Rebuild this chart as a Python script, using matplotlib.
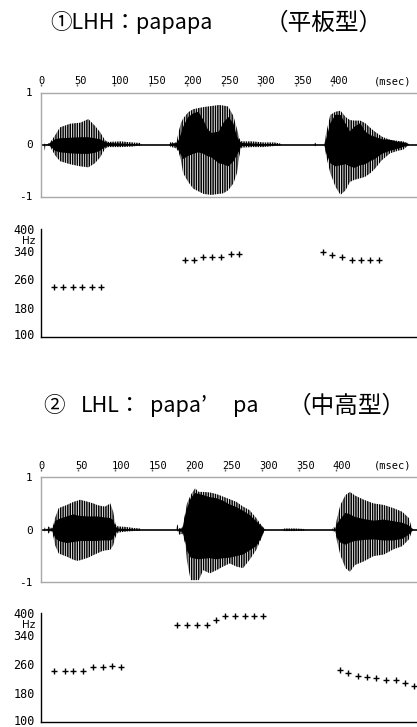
import matplotlib
matplotlib.use('Agg')
import matplotlib.pyplot as plt
import matplotlib.transforms as mtransforms

plt.rcParams['font.family'] = ['Noto Sans CJK JP', 'DejaVu Sans']
plt.rcParams['hatch.linewidth'] = 1.1
plt.rcParams['hatch.color'] = 'black'

# ---- time axis (msec) ----
x_ticks = [0, 50, 100, 150, 200, 250, 300, 350, 400]

# ---- (1) LHH papapa : waveform envelope ----
w1_t  = [0, 4, 5, 7, 12, 19, 26, 40, 54, 65, 74, 81, 88, 92, 110, 125, 136, 138,
         176, 178, 183, 186, 189, 192, 195, 202, 209, 216, 223, 228, 234, 244, 250,
         257, 264, 269, 272, 275, 290, 305, 320, 328, 330, 374, 376, 378, 389, 391,
         397, 404, 411, 418, 424, 430, 438, 445, 452, 458, 468, 479, 490, 497, 503,
         505, 520]
w1_up = [0, 0, 0.02, 0, 0.03, 0.17, 0.33, 0.40, 0.42, 0.49, 0.36, 0.24, 0.08, 0.05,
         0.06, 0.04, 0.03, 0, 0, 0.05, 0.03, 0.05, 0.25, 0.41, 0.50, 0.62, 0.68,
         0.70, 0.72, 0.73, 0.74, 0.76, 0.75, 0.73, 0.55, 0.30, 0.12, 0.06, 0.06,
         0.04, 0.04, 0.02, 0, 0, 0.04, 0, 0, 0.20, 0.57, 0.63, 0.65, 0.53, 0.47,
         0.46, 0.46, 0.41, 0.32, 0.25, 0.15, 0.09, 0.07, 0.06, 0.03, 0, 0]
w1_lo = [0, 0, -0.12, 0, -0.03, -0.20, -0.32, -0.38, -0.42, -0.44, -0.36, -0.25,
         -0.08, -0.05, -0.05, -0.04, -0.02, 0, 0, -0.05, -0.06, -0.08, -0.15, -0.30,
         -0.55, -0.72, -0.85, -0.90, -0.95, -0.96, -0.97, -0.95, -0.94, -0.88, -0.75,
         -0.55, -0.23, -0.06, -0.05, -0.05, -0.03, -0.02, 0, 0, -0.04, 0, 0, -0.20,
         -0.55, -0.81, -0.97, -0.88, -0.72, -0.68, -0.65, -0.62, -0.55, -0.47, -0.30,
         -0.17, -0.12, -0.10, -0.03, 0, 0]
w1_cu = [0, 0, 0, 0, 0.02, 0.10, 0.12, 0.13, 0.14, 0.14, 0.12, 0.10, 0.05, 0.03,
         0.02, 0.01, 0, 0, 0, 0.02, 0.02, 0.03, 0.09, 0.20, 0.34, 0.53, 0.60, 0.63,
         0.47, 0.31, 0.22, 0.25, 0.41, 0.53, 0.41, 0.15, 0.08, 0.03, 0.02, 0.01,
         0.01, 0, 0, 0, 0, 0, 0, 0.09, 0.41, 0.57, 0.57, 0.40, 0.25, 0.34, 0.41,
         0.25, 0.18, 0.15, 0.10, 0.09, 0.05, 0.04, 0.02, 0, 0]
w1_cl = [0, 0, 0, 0, -0.02, -0.12, -0.15, -0.17, -0.18, -0.18, -0.16, -0.12, -0.05,
         -0.03, -0.02, -0.01, 0, 0, 0, -0.02, -0.02, -0.05, -0.12, -0.20, -0.28,
         -0.22, -0.18, -0.15, -0.18, -0.22, -0.25, -0.36, -0.38, -0.42, -0.33, -0.20,
         -0.12, -0.03, -0.02, -0.02, -0.01, 0, 0, 0, 0, 0, 0, -0.15, -0.36, -0.42,
         -0.40, -0.38, -0.42, -0.45, -0.40, -0.38, -0.32, -0.28, -0.18, -0.12, -0.08,
         -0.05, -0.02, 0, 0]

# ---- (1) pitch points ----
f1_t = [18, 30, 44, 56, 70, 82,
        198, 210, 222, 235, 247, 261, 272,
        387, 400, 413, 427, 439, 452, 464]
f1_hz = [240, 240, 240, 240, 240, 240,
         314, 314, 322, 322, 322, 330, 330,
         335, 329, 323, 314, 314, 314, 314]

# ---- (2) LHL papa'pa : waveform envelope ----
w2_t  = [0, 4, 5, 8, 10, 14, 17, 19, 24, 35, 44, 49, 53, 64, 71, 76, 82, 87, 94,
         98, 101, 104, 115, 125, 134, 136, 183, 185, 187, 192, 196, 198, 203, 209,
         214, 220, 229, 238, 247, 256, 265, 274, 283, 292, 298, 303, 305, 327, 330,
         345, 357, 359, 395, 397, 399, 401, 406, 413, 419, 426, 438, 451, 465, 478,
         490, 499, 503, 505, 520]
w2_up = [0, 0, 0.04, 0, 0.06, 0.02, 0.10, 0.22, 0.41, 0.47, 0.53, 0.55, 0.57, 0.53,
         0.50, 0.47, 0.45, 0.44, 0.50, 0.34, 0.10, 0.06, 0.05, 0.03, 0.02, 0, 0,
         0.10, 0.02, 0.04, 0.35, 0.50, 0.66, 0.79, 0.72, 0.72, 0.71, 0.68, 0.63,
         0.58, 0.53, 0.44, 0.37, 0.22, 0.10, 0.02, 0, 0, 0.02, 0.02, 0.01, 0, 0,
         0.06, 0.02, 0.18, 0.47, 0.66, 0.72, 0.65, 0.57, 0.50, 0.47, 0.41, 0.34,
         0.22, 0.03, 0, 0]
w2_lo = [0, 0, -0.04, 0, -0.08, -0.02, -0.15, -0.30, -0.46, -0.52, -0.58, -0.60,
         -0.59, -0.54, -0.49, -0.46, -0.42, -0.40, -0.39, -0.30, -0.15, -0.06, -0.04,
         -0.03, -0.02, 0, 0, -0.02, -0.10, -0.08, -0.30, -0.60, -0.97, -0.97, -0.97,
         -0.78, -0.84, -0.78, -0.71, -0.65, -0.71, -0.74, -0.58, -0.39, -0.20, -0.03,
         0, 0, -0.03, -0.03, -0.02, 0, 0, -0.06, -0.02, -0.19, -0.49, -0.74, -0.81,
         -0.68, -0.61, -0.51, -0.48, -0.38, -0.32, -0.19, -0.05, 0, 0]
w2_cu = [0, 0, 0, 0, 0.02, 0, 0.05, 0.16, 0.20, 0.25, 0.29, 0.27, 0.26, 0.25, 0.25,
         0.25, 0.24, 0.23, 0.22, 0.18, 0.06, 0.02, 0.01, 0, 0, 0, 0, 0, 0, 0.02,
         0.30, 0.40, 0.60, 0.70, 0.68, 0.66, 0.62, 0.60, 0.55, 0.48, 0.43, 0.36,
         0.28, 0.16, 0.08, 0, 0, 0, 0, 0, 0, 0, 0, 0, 0, 0.10, 0.20, 0.32, 0.29,
         0.24, 0.20, 0.17, 0.19, 0.16, 0.13, 0.08, 0.02, 0, 0]
w2_cl = [0, 0, 0, 0, -0.03, 0, -0.08, -0.16, -0.22, -0.26, -0.24, -0.23, -0.22,
         -0.22, -0.22, -0.22, -0.21, -0.21, -0.21, -0.18, -0.08, -0.03, -0.02, 0, 0,
         0, 0, 0, -0.04, -0.04, -0.25, -0.40, -0.54, -0.56, -0.57, -0.56, -0.55,
         -0.57, -0.55, -0.54, -0.51, -0.48, -0.40, -0.32, -0.18, 0, 0, 0, 0, 0, 0,
         0, 0, 0, 0, -0.15, -0.25, -0.29, -0.25, -0.22, -0.20, -0.19, -0.21, -0.21,
         -0.18, -0.10, -0.03, 0, 0]

# ---- (2) pitch points ----
f2_t = [18, 32, 44, 57, 71, 84, 96, 109,
        185, 198, 212, 225, 237, 250, 263, 277, 289, 301,
        405, 417, 430, 442, 455, 468, 481, 494, 506]
f2_hz = [240, 240, 240, 242, 252, 252, 254, 252,
         366, 366, 366, 366, 382, 391, 391, 391, 391, 391,
         244, 235, 227, 225, 221, 215, 215, 209, 200]

hz_ticks = [100, 180, 260, 340, 400]

MONO = 'DejaVu Sans Mono'
GRAY = '#a8a8a8'


def drawWave(ax, t, up, lo, cu, cl, xmax):
    """waveform panel: hatched spikes + solid core"""
    ax.fill_between(t, lo, up, facecolor='white', edgecolor='black',
                    hatch='|||||||', linewidth=0)
    ax.fill_between(t, cl, cu, facecolor='black', linewidth=0)
    ax.axhline(0, color='black', lw=1.2)
    ax.set_xlim(0, xmax)
    ax.set_ylim(-1, 1)
    for s in ['top', 'left', 'bottom']:
        ax.spines[s].set_color(GRAY)
        ax.spines[s].set_linewidth(1.0)
    ax.spines['right'].set_visible(False)
    ax.set_yticks([-1, 0, 1])
    ax.set_yticklabels(['-1', '0', '1'], family=MONO, fontsize=8)
    ax.xaxis.tick_top()
    ax.set_xticks(x_ticks)
    ax.set_xticklabels([str(v) for v in x_ticks], family=MONO, fontsize=7.5)
    ax.tick_params(axis='x', length=0, pad=4.5)
    ax.tick_params(axis='y', length=0, pad=6)
    shift = mtransforms.ScaledTranslation(-3 / 100, 0, ax.figure.dpi_scale_trans)
    for lab in ax.get_xticklabels():
        lab.set_ha('left')
        lab.set_transform(lab.get_transform() + shift)
    trans = mtransforms.blended_transform_factory(ax.transData, ax.transAxes)
    ax.plot(x_ticks, [1.07] * len(x_ticks), ls='none', marker='|', ms=2,
            mew=1, color='#606060', transform=trans, clip_on=False)
    ax.text(0.935, 1.11, '(msec)', transform=ax.transAxes, family=MONO,
            fontsize=7.5, ha='center', va='center')


def drawPitch(ax, t, hz, xmax):
    """pitch panel: + markers"""
    ax.plot(t, hz, ls='none', marker='+', ms=5, mew=1, color='black')
    ax.set_xlim(0, xmax)
    ax.set_ylim(100, 400)
    ax.spines['top'].set_visible(False)
    ax.spines['right'].set_visible(False)
    ax.spines['left'].set_linewidth(1.0)
    ax.spines['bottom'].set_linewidth(1.0)
    ax.set_xticks([])
    ax.set_yticks(hz_ticks)
    ax.set_yticklabels([str(v) for v in hz_ticks], family=MONO, fontsize=8.5)
    ax.tick_params(axis='y', length=0, pad=4.5)
    # lowest label sits on the figure edge: nudge it up a little
    up = mtransforms.ScaledTranslation(0, 2.5 / 100, ax.figure.dpi_scale_trans)
    low = ax.get_yticklabels()[0]
    low.set_transform(low.get_transform() + up)
    trans = mtransforms.blended_transform_factory(ax.transAxes, ax.transData)
    ax.text(-0.015, 366, 'Hz', transform=trans, family='DejaVu Sans',
            fontsize=7.5, ha='right', va='center')


fig = plt.figure(figsize=(4.17, 7.27), dpi=100)
H = 727.0
L = 41 / 417.0
W = 1.0 - L

ax1 = fig.add_axes([L, 1 - 196.5 / H, W, 104 / H])
ax2 = fig.add_axes([L, 1 - 337 / H, W, 108 / H])
ax3 = fig.add_axes([L, 1 - 581.7 / H, W, 104.4 / H])
ax4 = fig.add_axes([L, 1 - 722.3 / H, W, 109.3 / H])

drawWave(ax1, w1_t, w1_up, w1_lo, w1_cu, w1_cl, 516)
drawPitch(ax2, f1_t, f1_hz, 516)
drawWave(ax3, w2_t, w2_up, w2_lo, w2_cu, w2_cl, 510)
drawPitch(ax4, f2_t, f2_hz, 510)

# titles
fig.text(50 / 417, 1 - 23 / H, '①LHH：papapa', fontsize=15.5, va='center')
fig.text(265 / 417, 1 - 23 / H, '（平板型）', fontsize=17, va='center')
fig.text(43 / 417, 1 - 406 / H, '②', fontsize=15.5, va='center')
fig.text(81 / 417, 1 - 406 / H, 'LHL：', fontsize=15.5, va='center')
fig.text(150 / 417, 1 - 406 / H, 'papa’', fontsize=15.5, va='center')
fig.text(233 / 417, 1 - 406 / H, 'pa', fontsize=15.5, va='center')
fig.text(288 / 417, 1 - 406 / H, '（中高型）', fontsize=17, va='center')

fig.savefig('out.png', dpi=100)
